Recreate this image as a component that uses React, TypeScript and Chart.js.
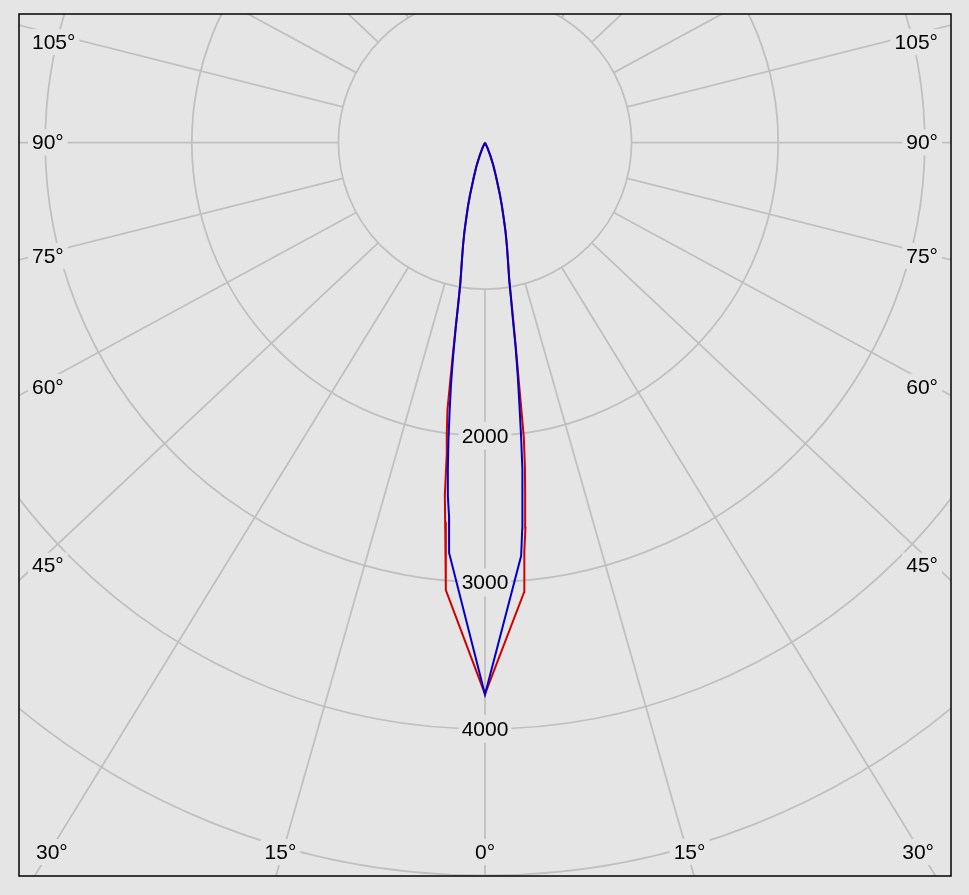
import React, { useEffect, useRef } from "react";
import { Chart, registerables } from "chart.js";

Chart.register(...registerables);

// Gamma angles (degrees from nadir) of the photometric data
const GAMMA = [0, 5, 5.5, 6, 6.5, 7, 7.5, 8, 8.5, 9, 9.5, 10, 11, 12, 13, 14, 15, 16, 18, 20, 22, 25, 28];

// Luminous intensity (cd) per C-plane
const C0 = [3762, 3075, 2800, 2640, 2420, 2235, 2030, 1680, 1440, 1240, 1080, 955, 825, 720, 625, 525, 445, 370, 245, 170, 100, 40, 0];
const C180 = [3762, 3064, 2790, 2600, 2420, 2140, 1995, 1840, 1530, 1280, 1090, 965, 830, 723, 625, 525, 447, 370, 245, 170, 100, 40, 0];
const C90 = [3765, 2830, 2650, 2450, 2245, 2020, 1795, 1605, 1415, 1210, 1070, 950, 820, 715, 620, 520, 440, 365, 240, 165, 100, 40, 0];
const C270 = [3765, 2810, 2560, 2425, 2240, 2045, 1850, 1665, 1470, 1275, 1090, 965, 830, 723, 625, 525, 447, 370, 245, 170, 100, 40, 0];

const SERIES_NAMES = ["C0-C180", "C90-C270"];
const SERIES_COLORS = ["#d20000", "#0000cc"];

// Polar grid
const RING_VALUES = [1000, 2000, 3000, 4000, 5000, 6000];
const RING_LABELS = [2000, 3000, 4000];
const SPOKE_ANGLES = [0, 15, 30, 45, 60, 75, 90, 105, 120, 135, 150, 165, 180];

// Axis ranges (cd)
const X_MIN = -3179;
const X_MAX = 3179;
const Y_MIN = -5003;
const Y_MAX = 877;

// Styling
const BG = "#e5e5e5";
const GRID = "#c0c0c0";
const FRAME = "#000000";
const FONT = '21px "Liberation Sans", Arial, sans-serif';
const SPOKE_Y_SCALE = 0.94;

function planePoints(left: number[], right: number[]) {
  const pts: { x: number; y: number }[] = [];
  for (let i = GAMMA.length - 1; i >= 0; i--) {
    const g = (GAMMA[i] * Math.PI) / 180;
    pts.push({ x: -left[i] * Math.sin(g), y: -left[i] * Math.cos(g) });
  }
  for (let i = 1; i < GAMMA.length; i++) {
    const g = (GAMMA[i] * Math.PI) / 180;
    pts.push({ x: right[i] * Math.sin(g), y: -right[i] * Math.cos(g) });
  }
  return pts;
}

function spokeDir(angle: number, side: number) {
  const a = (angle * Math.PI) / 180;
  const ux = side * Math.sin(a);
  const uy = Math.cos(a) * SPOKE_Y_SCALE;
  const n = Math.hypot(ux, uy);
  return { ux: ux / n, uy: uy / n };
}

const polarGrid = {
  id: "polarGrid",
  beforeDraw(chart: any) {
    const { ctx, width, height } = chart;
    ctx.save();
    ctx.fillStyle = BG;
    ctx.fillRect(0, 0, width, height);
    ctx.restore();
  },
  beforeDatasetsDraw(chart: any) {
    const { ctx, chartArea: a, scales } = chart;
    const xs = scales.x;
    const ys = scales.y;
    const cx = xs.getPixelForValue(0);
    const cy = ys.getPixelForValue(0);
    const rad = (v: number) => xs.getPixelForValue(v) - cx;

    ctx.save();
    ctx.beginPath();
    ctx.rect(a.left, a.top, a.right - a.left, a.bottom - a.top);
    ctx.clip();

    ctx.strokeStyle = GRID;
    ctx.lineWidth = 1.8;
    RING_VALUES.forEach((v) => {
      ctx.beginPath();
      ctx.arc(cx, cy, rad(v), 0, Math.PI * 2);
      ctx.stroke();
    });

    const r0 = rad(RING_VALUES[0]);
    const far = 3000;
    [-1, 1].forEach((side) => {
      SPOKE_ANGLES.forEach((ang) => {
        if (side === 1 && (ang === 0 || ang === 180)) return;
        const { ux, uy } = spokeDir(ang, side);
        ctx.beginPath();
        ctx.moveTo(cx + ux * r0, cy + uy * r0);
        ctx.lineTo(cx + ux * far, cy + uy * far);
        ctx.stroke();
      });
    });

    ctx.font = FONT;
    ctx.textAlign = "center";
    ctx.textBaseline = "middle";

    // ring labels
    RING_LABELS.forEach((v) => {
      const txt = String(v);
      const w = ctx.measureText(txt).width;
      const y = ys.getPixelForValue(-v);
      ctx.fillStyle = BG;
      ctx.fillRect(cx - w / 2 - 3, y - 14, w + 6, 28);
      ctx.fillStyle = "#000";
      ctx.fillText(txt, cx, y + 1);
    });

    // angle labels
    const inset = 16;
    [-1, 1].forEach((side) => {
      SPOKE_ANGLES.forEach((ang) => {
        if (side === 1 && ang === 0) return;
        const { ux, uy } = spokeDir(ang, side);
        const tx = ux < 0 ? (a.left - cx) / ux : ux > 0 ? (a.right - cx) / ux : Infinity;
        const ty = uy > 0 ? (a.bottom - cy) / uy : uy < 0 ? (a.top - cy) / uy : Infinity;
        if (ty < tx && uy < 0) return;
        const txt = ang + "°";
        const w = ctx.measureText(txt).width;
        let x: number;
        let y: number;
        if (tx <= ty) {
          const t = side < 0 ? (a.left + inset - cx) / ux : (a.right - inset - cx) / ux;
          y = cy + uy * t;
          y = Math.min(Math.max(y, a.top + 28), a.bottom - 28);
          x = side < 0 ? a.left + 13 + w / 2 : a.right - 13 - w / 2;
        } else {
          y = a.bottom - 24;
          const t = (a.bottom - inset - cy) / uy;
          x = cx + ux * t;
          x = Math.min(Math.max(x, a.left + 17 + w / 2), a.right - 17 - w / 2);
        }
        ctx.fillStyle = BG;
        ctx.fillRect(x - w / 2 - 4, y - 13, w + 8, 26);
        ctx.fillStyle = "#000";
        ctx.fillText(txt, x, y + 1);
      });
    });

    ctx.restore();
  },
  afterDraw(chart: any) {
    const { ctx, chartArea: a } = chart;
    ctx.save();
    ctx.strokeStyle = FRAME;
    ctx.lineWidth = 1.5;
    ctx.strokeRect(a.left, a.top, a.right - a.left, a.bottom - a.top);
    ctx.restore();
  },
};

export default function App() {
  const ref = useRef<HTMLCanvasElement | null>(null);

  useEffect(() => {
    document.body.style.margin = "0";
    document.body.style.background = BG;
    document.body.style.overflow = "hidden";
    if (!ref.current) return;
    const chart = new Chart(ref.current, {
      type: "scatter",
      data: {
        datasets: [
          {
            label: SERIES_NAMES[0],
            data: planePoints(C180, C0),
            showLine: true,
            borderColor: SERIES_COLORS[0],
            backgroundColor: SERIES_COLORS[0],
            borderWidth: 2,
            pointRadius: 0,
            tension: 0,
            fill: false,
            order: 2,
          },
          {
            label: SERIES_NAMES[1],
            data: planePoints(C270, C90),
            showLine: true,
            borderColor: SERIES_COLORS[1],
            backgroundColor: SERIES_COLORS[1],
            borderWidth: 2,
            pointRadius: 0,
            tension: 0,
            fill: false,
            order: 1,
          },
        ],
      },
      options: {
        responsive: false,
        animation: false,
        events: [],
        layout: { padding: { left: 19, top: 14, right: 18, bottom: 19 } },
        plugins: { legend: { display: false }, tooltip: { enabled: false } },
        scales: {
          x: { type: "linear", min: X_MIN, max: X_MAX, display: false },
          y: { type: "linear", min: Y_MIN, max: Y_MAX, display: false },
        },
      },
      plugins: [polarGrid],
    });
    return () => chart.destroy();
  }, []);

  return (
    <div style={{ width: 969, height: 895 }}>
      <canvas ref={ref} width={969} height={895} style={{ display: "block" }} />
    </div>
  );
}
